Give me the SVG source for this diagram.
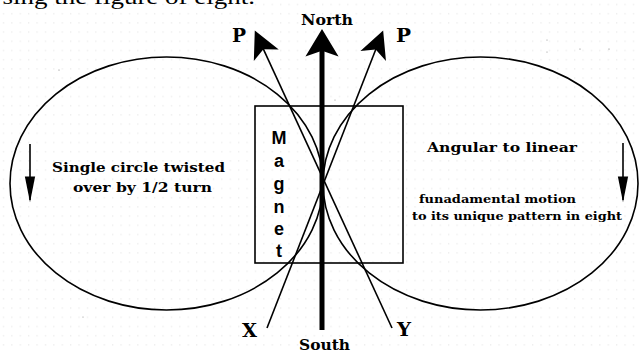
<svg xmlns="http://www.w3.org/2000/svg" width="639" height="352" viewBox="0 0 639 352">
<defs>
<pattern id="grid" x="0" y="0" width="8.4" height="9.2" patternUnits="userSpaceOnUse">
<rect x="3" y="4" width="1" height="1" fill="#dedede"/>
</pattern>
<marker id="headP" markerUnits="userSpaceOnUse" orient="auto" markerWidth="40" markerHeight="40" refX="-4" refY="0" viewBox="-30 -15 35 30" overflow="visible">
<path d="M0,0 L-24,-12 L-18,0 L-24,12 Z" fill="#000"/>
</marker>
<marker id="headN" markerUnits="userSpaceOnUse" orient="auto" markerWidth="40" markerHeight="40" refX="-14" refY="0" viewBox="-30 -16 35 32" overflow="visible">
<path d="M0,0 L-24,-14.5 L-19,0 L-24,14.5 Z" fill="#000"/>
</marker>
<marker id="headD" markerUnits="userSpaceOnUse" orient="auto" markerWidth="30" markerHeight="20" refX="-2" refY="0" viewBox="-26 -6 28 12" overflow="visible">
<path d="M0,0 L-24,-4.8 L-24,4.8 Z" fill="#000"/>
</marker>
</defs>
<style>
.ln{fill:none;stroke:#000;stroke-width:1.6}
.lbl{font-family:"DejaVu Serif","Liberation Serif",serif;font-weight:bold;fill:#000}
</style>
<rect width="639" height="352" fill="#fff"/>
<rect width="639" height="352" fill="url(#grid)"/>
<text x="-17" y="4" style="font-family:'Liberation Serif',serif;font-size:21px" textLength="272" lengthAdjust="spacingAndGlyphs">Using the figure of eight.</text>
<g id="specks" fill="#777">
<circle cx="59" cy="70" r="0.6"/><circle cx="547" cy="40" r="0.5"/><circle cx="547" cy="52" r="0.5"/><circle cx="580" cy="49" r="0.6"/><circle cx="609" cy="49" r="0.6"/><circle cx="83" cy="317" r="0.5"/><circle cx="335" cy="100" r="0.5"/>
</g>
<g id="left-loop">
<ellipse class="ln" cx="166.5" cy="183.5" rx="156.5" ry="126.5"/>
<text class="lbl" x="52" y="172" font-size="13" textLength="173" lengthAdjust="spacingAndGlyphs">Single circle twisted</text>
<text class="lbl" x="73" y="192" font-size="13" textLength="139" lengthAdjust="spacingAndGlyphs">over by 1/2 turn</text>
</g>
<g id="right-loop">
<ellipse class="ln" cx="480.5" cy="183.5" rx="157.5" ry="126.5"/>
<text class="lbl" x="427" y="152" font-size="13" textLength="150" lengthAdjust="spacingAndGlyphs">Angular to linear</text>
<text class="lbl" x="419" y="203" font-size="11.5" textLength="157" lengthAdjust="spacingAndGlyphs">funadamental motion</text>
<text class="lbl" x="412" y="220" font-size="11.5" textLength="210" lengthAdjust="spacingAndGlyphs">to its unique pattern in eight</text>
</g>
<g id="magnet">
<rect class="ln" x="255" y="106" width="148" height="157" stroke-width="1.4"/>
<g font-family="Liberation Sans, Arial, sans-serif" font-weight="bold" font-size="18" text-anchor="middle" fill="#000">
<text x="279" y="144">M</text>
<text x="279" y="167">a</text>
<text x="279" y="190">g</text>
<text x="279" y="213">n</text>
<text x="279" y="235">e</text>
<text x="279" y="257">t</text>
</g>
</g>
<g id="labels">
<text class="lbl" x="301" y="25" font-size="15" textLength="52" lengthAdjust="spacingAndGlyphs">North</text>
<text class="lbl" x="299" y="350" font-size="14" textLength="51" lengthAdjust="spacingAndGlyphs">South</text>
<text class="lbl" x="232" y="42" font-size="18" textLength="14" lengthAdjust="spacingAndGlyphs">P</text>
<text class="lbl" x="396" y="42" font-size="18" textLength="15" lengthAdjust="spacingAndGlyphs">P</text>
<text class="lbl" x="242" y="337" font-size="18" textLength="15" lengthAdjust="spacingAndGlyphs">X</text>
<text class="lbl" x="397" y="336" font-size="18" textLength="14" lengthAdjust="spacingAndGlyphs">Y</text>
</g>
<g id="connectors">
<line x1="322" y1="330" x2="322" y2="45" stroke="#000" stroke-width="5" marker-end="url(#headN)"/>
<line class="ln" x1="392" y1="328" x2="256.7" y2="34.6" marker-end="url(#headP)"/>
<line class="ln" x1="267" y1="328" x2="381.5" y2="34.7" marker-end="url(#headP)"/>
<line class="ln" x1="30" y1="144" x2="30" y2="200" stroke-width="1.8" marker-end="url(#headD)"/>
<line class="ln" x1="623" y1="143" x2="623" y2="200" stroke-width="1.8" marker-end="url(#headD)"/>
</g>
</svg>
